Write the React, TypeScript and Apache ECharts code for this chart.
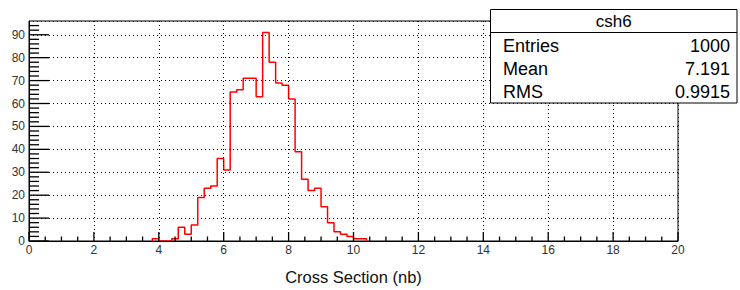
import React, { useEffect, useRef } from "react";
import * as echarts from "echarts";

// Histogram csh6: bins of width 0.2 starting at binLow (all other bins are empty)
const binLow = 3.8;
const binWidth = 0.2;
const counts = [
  1, 0, 0, 1, 6, 3, 7, 19, 23, 24, 36, 31, 65, 66, 71, 71, 63, 91, 78, 69, 68,
  62, 39, 27, 22, 23, 15, 8, 4, 3, 2, 1, 1,
];

const xMin = 0;
const xMax = 20;
const xInterval = 2;
const xMinorStep = 0.5;
const yMin = 0;
const yMax = 96;
const yInterval = 10;
const yMinorStep = 2;
const yLastMinor = 94;

const xAxisTitle = "Cross Section (nb)";
const statsTitle = "csh6";
const statsLabels = ["Entries", "Mean", "RMS"];
const statsValues = ["1000", "7.191", "0.9915"];

const FONT = "'Liberation Sans', Arial, Helvetica, sans-serif";

function range(a: number, b: number, step: number): number[] {
  const out: number[] = [];
  const n = Math.round((b - a) / step);
  for (let i = 0; i <= n; i++) out.push(+(a + i * step).toFixed(4));
  return out;
}

export default function App() {
  const ref = useRef<HTMLDivElement>(null);

  useEffect(() => {
    document.body.style.margin = "0";
    if (!ref.current) return;
    const chart = echarts.init(ref.current, undefined, { renderer: "svg" });

    const stepData: [number, number][] = [];
    stepData.push([binLow, 0]);
    counts.forEach((c, i) => {
      stepData.push([+(binLow + i * binWidth).toFixed(4), c]);
    });
    stepData.push([+(binLow + counts.length * binWidth).toFixed(4), 0]);

    const boxX = 490.5;
    const boxY = 9.5;
    const boxW = 246.5;
    const boxH = 93.5;
    const rowYs = [46, 69, 92];

    const dotted = { color: "#000", width: 1, type: [1, 3] as number[] };

    const statsGraphics: any[] = [
      {
        type: "rect",
        z: 100,
        shape: { x: boxX, y: boxY, width: boxW, height: boxH },
        style: { fill: "#fff", stroke: "#000", lineWidth: 1 },
      },
      {
        type: "line",
        z: 101,
        shape: { x1: boxX, y1: 32.5, x2: boxX + boxW, y2: 32.5 },
        style: { stroke: "#000", lineWidth: 1 },
      },
      {
        type: "text",
        z: 101,
        x: boxX + boxW / 2,
        y: 21.5,
        style: {
          text: statsTitle,
          fontFamily: FONT,
          fontSize: 17,
          fill: "#000",
          align: "center",
          verticalAlign: "middle",
        },
      },
      ...statsLabels.map((lab, i) => ({
        type: "text",
        z: 101,
        x: 503,
        y: rowYs[i],
        style: {
          text: lab,
          fontFamily: FONT,
          fontSize: 18,
          fill: "#000",
          align: "left",
          verticalAlign: "middle",
        },
      })),
      ...statsValues.map((val, i) => ({
        type: "text",
        z: 101,
        x: 730,
        y: rowYs[i],
        style: {
          text: val,
          fontFamily: FONT,
          fontSize: 18,
          fill: "#000",
          align: "right",
          verticalAlign: "middle",
        },
      })),
    ];

    chart.setOption({
      animation: false,
      backgroundColor: "#fff",
      grid: {
        left: 29,
        top: 21,
        right: 62,
        bottom: 42,
        show: true,
        borderColor: "#000",
        borderWidth: 1,
        backgroundColor: "transparent",
      },
      xAxis: {
        type: "value",
        min: xMin,
        max: xMax,
        interval: xInterval,
        z: 3,
        name: xAxisTitle,
        nameLocation: "middle",
        nameGap: 27,
        nameTextStyle: { fontFamily: FONT, fontSize: 16.5, color: "#111" },
        axisLine: { show: true, onZero: false, lineStyle: { color: "#000", width: 1 } },
        axisTick: { show: false },
        minorTick: { show: false },
        axisLabel: { fontFamily: FONT, fontSize: 12, color: "#333", margin: 3 },
        splitLine: { show: true, lineStyle: dotted },
      },
      yAxis: {
        type: "value",
        min: yMin,
        max: yMax,
        interval: yInterval,
        axisLine: { show: true, onZero: false, lineStyle: { color: "#000", width: 1 } },
        axisTick: { show: false },
        minorTick: { show: false },
        axisLabel: { fontFamily: FONT, fontSize: 12, color: "#333", margin: 4, showMaxLabel: false },
        splitLine: { show: true, lineStyle: dotted },
      },
      series: [
        {
          type: "line",
          step: "end",
          data: stepData,
          symbol: "none",
          lineStyle: { color: "#ff0000", width: 1.5 },
          z: 2,
        },
      ],
      graphic: statsGraphics,
    });

    // tick marks placed through the chart's own scales
    const tickGraphics: any[] = [];
    try {
      const toPx = (x: number, y: number): number[] =>
        chart.convertToPixel({ xAxisIndex: 0, yAxisIndex: 0 } as any, [x, y]) as number[];
      range(xMin, xMax, xMinorStep).forEach((v) => {
        const major = Math.abs(v / xInterval - Math.round(v / xInterval)) < 1e-6;
        const len = major ? 9 : 4.5;
        const p = toPx(v, yMin);
        tickGraphics.push({
          type: "line",
          z: 50,
          silent: true,
          shape: { x1: p[0], y1: p[1], x2: p[0], y2: p[1] - len },
          style: { stroke: "#000", lineWidth: 1.3 },
        });
      });
      range(yMin, yLastMinor, yMinorStep).forEach((v) => {
        const major = Math.abs(v / yInterval - Math.round(v / yInterval)) < 1e-6;
        const len = major ? 20 : 10;
        const p = toPx(xMin, v);
        tickGraphics.push({
          type: "line",
          z: 50,
          silent: true,
          shape: { x1: p[0], y1: p[1], x2: p[0] + len, y2: p[1] },
          style: { stroke: "#000", lineWidth: 1.3 },
        });
      });
    } catch (e) {
      // ticks are decorative; ignore failures
    }

    chart.setOption({ graphic: { elements: [...statsGraphics, ...tickGraphics] } });

    return () => {
      chart.dispose();
    };
  }, []);

  return <div ref={ref} style={{ width: 740, height: 290 }} />;
}
